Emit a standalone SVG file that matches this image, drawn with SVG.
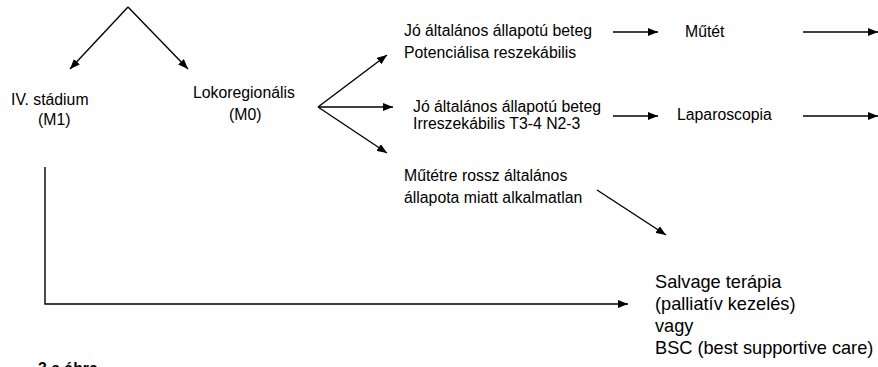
<svg xmlns="http://www.w3.org/2000/svg" width="878" height="367" viewBox="0 0 878 367">
<style>
text{font-family:"Liberation Sans",Arial,sans-serif;font-size:15.8px;fill:#000}
.big{font-size:18.2px}
.c line,.c polyline{stroke:#000;stroke-width:1.4;fill:none}
.cap{font-weight:bold}
</style>
<defs>
<marker id="ah" viewBox="0 0 10 8" refX="10" refY="4" markerWidth="10" markerHeight="8" markerUnits="userSpaceOnUse" orient="auto">
<path d="M0,0 L10,4 L0,8 Z" fill="#000"/>
</marker>
</defs>
<rect width="878" height="367" fill="#fff"/>
<g class="c" id="connectors">
<line x1="128" y1="7" x2="70" y2="69" marker-end="url(#ah)"/>
<line x1="128" y1="7" x2="188" y2="69" marker-end="url(#ah)"/>
<line x1="318" y1="107" x2="387" y2="55" marker-end="url(#ah)"/>
<line x1="318" y1="107" x2="393" y2="107" marker-end="url(#ah)"/>
<line x1="318" y1="107" x2="387" y2="153" marker-end="url(#ah)"/>
<line x1="613" y1="32" x2="658" y2="32" marker-end="url(#ah)"/>
<line x1="803" y1="32" x2="878" y2="32" marker-end="url(#ah)"/>
<line x1="613" y1="116" x2="658" y2="116" marker-end="url(#ah)"/>
<line x1="803" y1="116" x2="878" y2="116" marker-end="url(#ah)"/>
<line x1="597" y1="190" x2="666" y2="235" marker-end="url(#ah)"/>
<polyline points="45,167 45,304 628,304" marker-end="url(#ah)"/>
</g>
<g id="stage4"><text x="11" y="105">IV. stádium</text><text x="38" y="125">(M1)</text></g>
<g id="loko"><text x="193" y="98">Lokoregionális</text><text x="229" y="120">(M0)</text></g>
<g id="res"><text x="404" y="36">Jó általános állapotú beteg</text><text x="404" y="58">Potenciálisa reszekábilis</text></g>
<g id="irres"><text x="413" y="112">Jó általános állapotú beteg</text><text x="413" y="129">Irreszekábilis T3-4 N2-3</text></g>
<g id="unfit"><text x="404" y="181">Műtétre rossz általános</text><text x="404" y="203">állapota miatt alkalmatlan</text></g>
<g id="mutet"><text x="685" y="37">Műtét</text></g>
<g id="lap"><text x="677" y="120">Laparoscopia</text></g>
<g id="salvage" class="big"><text class="big" x="655" y="288">Salvage terápia</text><text class="big" x="655" y="310">(palliatív kezelés)</text><text class="big" x="655" y="332">vagy</text><text class="big" x="655" y="354">BSC (best supportive care)</text></g>
<text class="cap" x="38" y="374">3.a ábra</text>
</svg>
